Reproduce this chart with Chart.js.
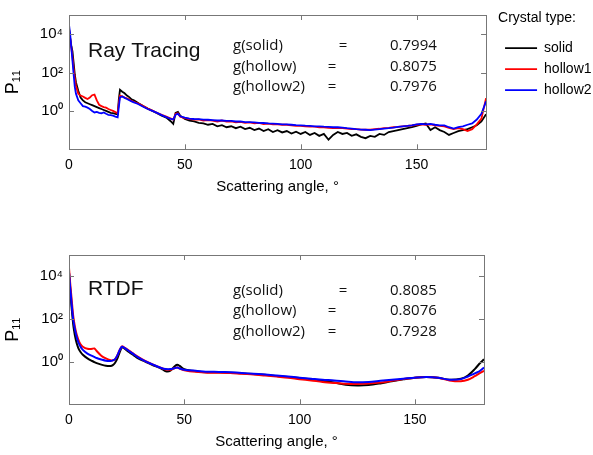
<!DOCTYPE html>
<html>
<head>
<meta charset="utf-8">
<script src="https://cdn.jsdelivr.net/npm/chart.js@4.4.1/dist/chart.umd.min.js"></script>
<style>
  html, body { margin: 0; padding: 0; background: #fff; overflow: hidden; }
  #wrap { position: relative; width: 593px; height: 455px; overflow: hidden; }
  canvas { position: absolute; left: 0; }
</style>
</head>
<body>
<div id="wrap">
  <canvas id="topChart" style="top:0"></canvas>
  <canvas id="botChart" style="top:240px"></canvas>
</div>
<script>
// scattering angles (deg) and log10(P11)
const topAngle = [0,0.5,1,1.5,2,2.5,3,4,5,6,7,8,9,10,11,12,13,14,15,16,17,18,19,20,21,21.5,22,23,24,25,26,27,28,29,30,32,34,36,38,40,42,44,45,46,47,48,50,
  52,54,56,58,60,62,64,66,68,70,72,74,76,78,80,82,84,86,88,90,92,94,96,98,100,102,104,106,108,110,
  112,114,116,118,120,122,124,126,128,130,132,134,136,138,140,142,144,146,148,150,152,154,156,158,160,
  162,164,166,168,170,172,174,176,178,180];

const topSolidLog = [4.3,3.8,3.4,3.1,2.5,1.9,1.5,1.05,0.7,0.55,0.45,0.4,0.35,0.3,0.25,0.2,0.15,0.1,0.05,0,-0.05,-0.1,-0.12,-0.15,-0.18,0.6,
  1.1,1.0,0.92,0.8,0.72,0.6,0.55,0.48,0.4,0.25,0.12,0,-0.12,-0.25,-0.35,-0.55,-0.68,-0.1,-0.05,-0.25,-0.42,
  -0.5,-0.55,-0.62,-0.65,-0.72,-0.68,-0.8,-0.74,-0.85,-0.8,
  -0.9,-0.82,-0.95,-0.88,-1.0,-0.92,-1.05,-0.95,-1.1,-1.0,
  -1.12,-1.05,-1.18,-1.08,-1.2,-1.1,-1.25,-1.15,-1.3,-1.2,
  -1.5,-1.25,-1.1,-1.2,-1.15,-1.3,-1.22,-1.35,-1.42,-1.3,
  -1.35,-1.2,-1.25,-1.1,-1.05,-1.0,-0.95,-0.9,-0.85,-0.78,
  -0.7,-0.65,-1.0,-0.85,-1.0,-1.1,-1.25,-1.15,-1.05,-1.0,
  -0.95,-0.85,-0.75,-0.55,-0.17];

const topHollow1Log = [4.3,3.8,3.3,2.8,2.2,1.7,1.3,0.9,0.8,0.75,0.68,0.62,0.7,0.82,0.85,0.55,0.32,0.25,0.2,0.17,0.1,0.05,0,-0.06,-0.12,0.4,
  0.8,0.76,0.7,0.66,0.6,0.52,0.48,0.42,0.38,0.26,0.12,0.02,-0.1,-0.2,-0.3,-0.4,-0.45,-0.15,-0.12,-0.3,-0.38,
  -0.42,-0.45,-0.44,-0.5,-0.48,-0.5,-0.55,-0.5,-0.56,-0.55,
  -0.6,-0.57,-0.62,-0.6,-0.65,-0.62,-0.68,-0.66,-0.7,-0.7,
  -0.72,-0.72,-0.75,-0.78,-0.78,-0.8,-0.82,-0.82,-0.85,-0.85,
  -0.88,-0.9,-0.88,-0.9,-0.92,-0.95,-0.95,-0.97,-0.98,-0.98,
  -0.95,-0.93,-0.9,-0.88,-0.85,-0.83,-0.8,-0.78,-0.76,-0.72,
  -0.7,-0.72,-0.7,-0.75,-0.78,-0.8,-0.88,-0.95,-0.9,-0.95,
  -1.05,-0.95,-0.7,-0.4,0.67];

const topHollow2Log = [4.5,4.0,3.3,2.6,1.9,1.25,0.9,0.55,0.4,0.25,0.22,0.17,0.1,0,-0.08,-0.05,-0.1,-0.12,-0.08,-0.15,-0.2,-0.22,-0.25,-0.3,-0.33,0.2,
  0.7,0.75,0.68,0.62,0.56,0.5,0.45,0.4,0.35,0.22,0.1,0,-0.1,-0.22,-0.32,-0.42,-0.45,-0.2,-0.15,-0.28,-0.35,
  -0.4,-0.42,-0.43,-0.45,-0.46,-0.48,-0.5,-0.5,-0.52,-0.52,
  -0.55,-0.55,-0.58,-0.58,-0.6,-0.62,-0.63,-0.65,-0.66,-0.68,
  -0.7,-0.7,-0.72,-0.74,-0.75,-0.77,-0.78,-0.8,-0.8,-0.82,
  -0.83,-0.85,-0.85,-0.87,-0.9,-0.92,-0.95,-0.97,-0.98,-1.0,
  -0.97,-0.95,-0.92,-0.9,-0.87,-0.83,-0.8,-0.78,-0.75,-0.7,
  -0.67,-0.7,-0.68,-0.72,-0.75,-0.75,-0.85,-0.92,-0.85,-0.8,
  -0.72,-0.65,-0.45,-0.15,0.5];

const botAngle = [0,0.5,1,1.5,2,3,4,5,6,8,10,11,12,14,16,18,19,20,21,22,23,24,26,28,30,33,36,40,42,44,46,47,48,50,
  55,60,65,70,75,80,85,90,95,100,105,110,115,120,125,130,135,140,145,150,155,160,165,170,173,176,178,180];

const botSolidLog = [4.2,3.4,2.7,2.1,1.6,1.0,0.65,0.45,0.32,0.15,0.03,-0.02,-0.07,-0.14,-0.19,-0.2,-0.16,-0.05,0.15,0.45,0.68,0.62,
  0.45,0.3,0.15,0,-0.15,-0.32,-0.45,-0.42,-0.2,-0.15,-0.2,-0.35,
  -0.45,-0.5,-0.5,-0.52,-0.55,-0.58,-0.62,-0.67,-0.72,-0.77,-0.82,-0.9,-0.98,-1.08,-1.12,-1.1,-1.02,-0.92,-0.83,-0.75,-0.72,-0.75,-0.85,-0.8,
  -0.65,-0.35,-0.1,0.11];

const botHollow1Log = [4.4,3.7,3.1,2.5,2.0,1.4,1.05,0.82,0.7,0.6,0.6,0.62,0.5,0.28,0.15,0.07,0.06,0.12,0.3,0.55,0.72,0.66,
  0.52,0.37,0.22,0.03,-0.12,-0.3,-0.37,-0.38,-0.3,-0.28,-0.33,-0.4,
  -0.48,-0.52,-0.52,-0.53,-0.57,-0.6,-0.65,-0.7,-0.75,-0.82,-0.88,-0.95,-1.0,-1.04,-1.05,-1.03,-0.98,-0.9,-0.82,-0.75,-0.72,-0.76,-0.88,-0.92,
  -0.85,-0.68,-0.55,-0.43];

const botHollow2Log = [4.2,3.5,2.9,2.3,1.85,1.3,0.92,0.7,0.55,0.38,0.27,0.22,0.17,0.1,0.04,0.03,0.06,0.12,0.3,0.55,0.7,0.65,
  0.5,0.35,0.2,0.02,-0.12,-0.3,-0.35,-0.35,-0.3,-0.28,-0.32,-0.38,
  -0.43,-0.47,-0.48,-0.5,-0.53,-0.57,-0.6,-0.65,-0.7,-0.75,-0.8,-0.85,-0.88,-0.93,-0.97,-0.95,-0.9,-0.85,-0.8,-0.75,-0.72,-0.75,-0.85,-0.82,
  -0.7,-0.55,-0.45,-0.28];

const seriesNames = ['solid', 'hollow1', 'hollow2'];
const gNames = ['g(solid)', 'g(hollow)', 'g(hollow2)'];
const gTop = ['0.7994', '0.8075', '0.7976'];
const gBot = ['0.8085', '0.8076', '0.7928'];
const xTicks = [0, 50, 100, 150];
const yTickValues = [1, 100, 10000];
const yTickLabels = ['10⁰', '10²', '10⁴'];

const LEFT = 69, RIGHT = 484;
const colors = ['#000000', '#ff0000', '#0000ff'];

Chart.defaults.font.family = "'Liberation Sans', Arial, sans-serif";
Chart.defaults.color = '#000';

function points(angles, logs) {
  return angles.map((a, i) => ({ x: a, y: Math.pow(10, logs[i]) }));
}

// axes box with inward ticks, MATLAB style
const boxPlugin = {
  id: 'box',
  afterDraw(chart) {
    const { ctx, chartArea: a, scales: { x, y } } = chart;
    ctx.save();
    ctx.strokeStyle = '#777';
    ctx.lineWidth = 1;
    ctx.strokeRect(Math.round(a.left) + 0.5, Math.round(a.top) + 0.5,
      Math.round(a.right - a.left), Math.round(a.bottom - a.top));
    ctx.beginPath();
    xTicks.slice(1).forEach(v => {
      const px = Math.round(x.getPixelForValue(v)) + 0.5;
      ctx.moveTo(px, a.bottom); ctx.lineTo(px, a.bottom - 5);
      ctx.moveTo(px, a.top); ctx.lineTo(px, a.top + 5);
    });
    yTickValues.forEach(v => {
      const py = Math.round(y.getPixelForValue(v)) + 0.5;
      ctx.moveTo(a.left, py); ctx.lineTo(a.left + 5, py);
      ctx.moveTo(a.right, py); ctx.lineTo(a.right - 5, py);
    });
    ctx.stroke();
    ctx.restore();
  }
};

const notesPlugin = {
  id: 'notes',
  afterDatasetsDraw(chart, args, o) {
    const { ctx, chartArea: a } = chart;
    ctx.save();
    ctx.fillStyle = '#111';
    ctx.textBaseline = 'middle';
    ctx.textAlign = 'left';
    ctx.font = "21px 'Liberation Sans'";
    ctx.fillText(o.title, a.left + 19, a.top + o.titleDy);
    ctx.font = "15px 'Open Sans'";
    gNames.forEach((name, i) => {
      const yy = a.top + o.rowTop + i * o.rowGap;
      ctx.textAlign = 'left';
      ctx.fillText(name, a.left + 164, yy);
      ctx.textAlign = 'center';
      ctx.fillText('=', a.left + (i === 0 ? 274 : 263), yy);
      ctx.textAlign = 'left';
      ctx.fillText(o.values[i], a.left + 321, yy);
    });
    ctx.restore();
  }
};

function makePanel(id, w, h, padTop, padRight, angles, logs, notes, withLegend, lineW) {
  const cv = document.getElementById(id);
  cv.width = w; cv.height = h;
  cv.style.width = w + 'px'; cv.style.height = h + 'px';
  const datasets = logs.map((l, i) => ({
    label: seriesNames[i],
    data: points(angles, l),
    borderColor: colors[i],
    backgroundColor: colors[i],
    borderWidth: lineW,
    pointRadius: 0,
    tension: withLegend ? 0 : 0.3,
    order: 2 - i
  }));
  const scales = {
    x: {
      type: 'linear', min: 0, max: 180,
      afterBuildTicks: s => { s.ticks = xTicks.map(v => ({ value: v })); },
      grid: { display: false, drawTicks: false },
      border: { display: false },
      ticks: { font: { size: 14 }, padding: 7, maxRotation: 0, color: '#000' },
      title: { display: true, text: 'Scattering angle, °', font: { size: 15 }, color: '#000', padding: { top: 0, bottom: 4 } },
      afterFit: s => { s.height = 50.7; }
    },
    y: {
      type: 'logarithmic', min: 1e-2, max: 1e5,
      afterBuildTicks: s => { s.ticks = yTickValues.map(v => ({ value: v })); },
      grid: { display: false, drawTicks: false },
      border: { display: false },
      ticks: { font: { size: 15 }, padding: 6, color: '#000', callback: (v, i) => yTickLabels[i] },
      title: { display: true, text: 'P₁₁', font: { size: 18 }, color: '#000', padding: { top: 2, bottom: 0 } },
      afterFit: s => { s.width = LEFT; }
    }
  };
  if (withLegend) {
    scales.gap = {
      type: 'linear', position: 'right', display: true,
      grid: { display: false, drawTicks: false }, border: { display: false },
      ticks: { display: false },
      afterFit: s => { s.width = 12; }
    };
  }
  return new Chart(cv, {
    type: 'line',
    data: { datasets },
    options: {
      responsive: false,
      animation: false,
      devicePixelRatio: 1,
      layout: { padding: { top: padTop, right: padRight, left: 0, bottom: 0 } },
      scales,
      plugins: {
        tooltip: { enabled: false },
        notes,
        legend: {
          display: withLegend,
          position: 'right',
          align: 'start',
          title: { display: true, text: 'Crystal type:', position: 'start', color: '#000', font: { size: 14 }, padding: { top: 2, bottom: 6 } },
          labels: {
            usePointStyle: true, pointStyle: 'line', pointStyleWidth: 32,
            font: { size: 14 }, color: '#000', padding: 7,
            sort: (a, b) => a.datasetIndex - b.datasetIndex
          }
        }
      }
    },
    plugins: [boxPlugin, notesPlugin]
  });
}

const topChart = makePanel('topChart', 610, 200, 9.3, 0, topAngle,
  [topSolidLog, topHollow1Log, topHollow2Log],
  { title: 'Ray Tracing', titleDy: 36, rowTop: 31, rowGap: 20.5, values: gTop }, true, 1.8);
const shift = topChart.chartArea.right - RIGHT;
if (shift > 0) {
  topChart.options.layout.padding.right = shift;
  topChart.update('none');
}

makePanel('botChart', 593, 215, 12.7, 593 - RIGHT, botAngle,
  [botSolidLog, botHollow1Log, botHollow2Log],
  { title: 'RTDF', titleDy: 34, rowTop: 35.6, rowGap: 20.5, values: gBot }, false, 2);
</script>
</body>
</html>
